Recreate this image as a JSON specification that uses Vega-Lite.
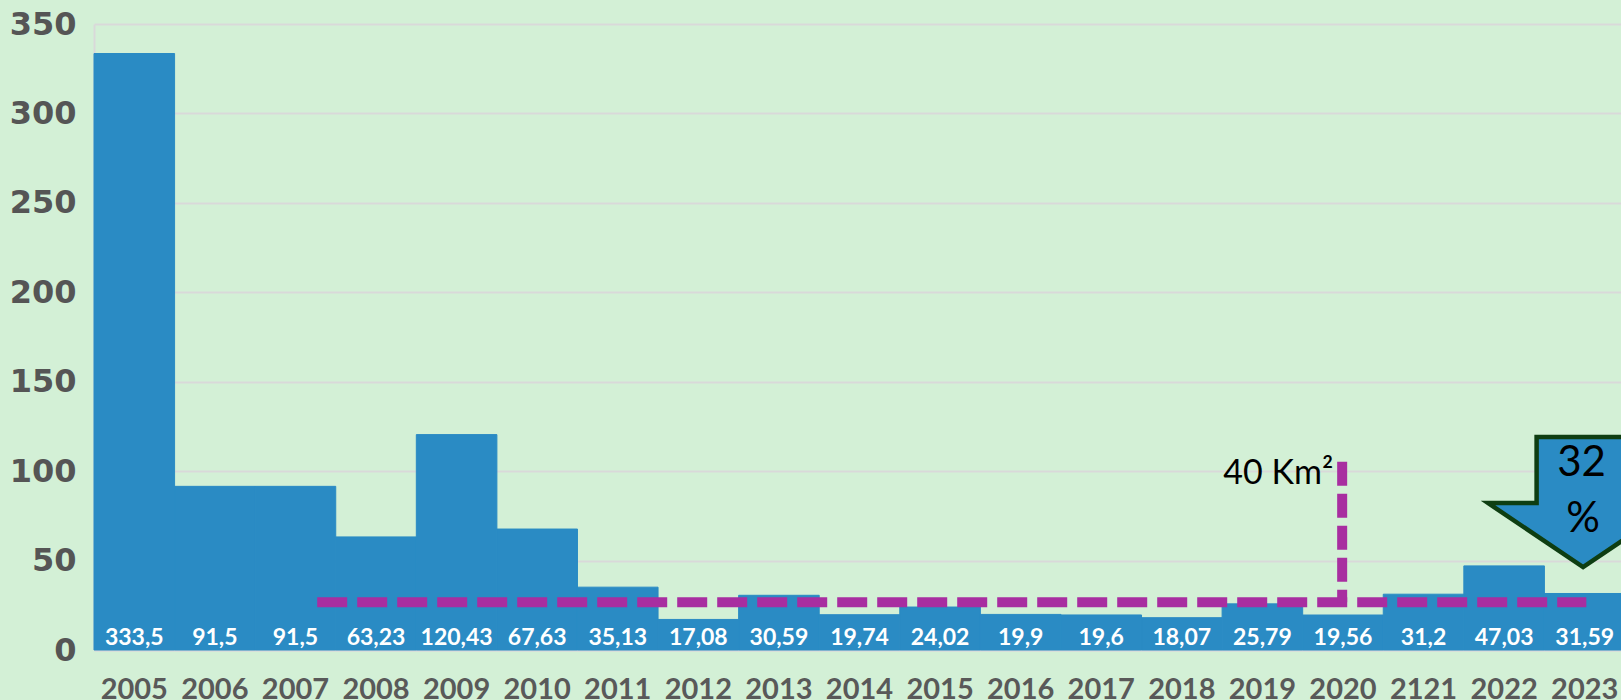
{
  "$schema": "https://vega.github.io/schema/vega-lite/v6.json",
  "width": 1531,
  "height": 626,
  "autosize": {"type": "none"},
  "padding": {"left": 94, "top": 24, "right": 0, "bottom": 50},
  "background": "#d3f0d6",
  "config": {"view": {"stroke": null}},
  "resolve": {"scale": {"x": "independent"}},
  "layer": [
    {
      "data": {
        "values": [
          {"year": "2005", "value": 333.5, "label": "333,5"},
          {"year": "2006", "value": 91.5, "label": "91,5"},
          {"year": "2007", "value": 91.5, "label": "91,5"},
          {"year": "2008", "value": 63.23, "label": "63,23"},
          {"year": "2009", "value": 120.43, "label": "120,43"},
          {"year": "2010", "value": 67.63, "label": "67,63"},
          {"year": "2011", "value": 35.13, "label": "35,13"},
          {"year": "2012", "value": 17.08, "label": "17,08"},
          {"year": "2013", "value": 30.59, "label": "30,59"},
          {"year": "2014", "value": 19.74, "label": "19,74"},
          {"year": "2015", "value": 24.02, "label": "24,02"},
          {"year": "2016", "value": 19.9, "label": "19,9"},
          {"year": "2017", "value": 19.6, "label": "19,6"},
          {"year": "2018", "value": 18.07, "label": "18,07"},
          {"year": "2019", "value": 25.79, "label": "25,79"},
          {"year": "2020", "value": 19.56, "label": "19,56"},
          {"year": "2121", "value": 31.2, "label": "31,2"},
          {"year": "2022", "value": 47.03, "label": "47,03"},
          {"year": "2023", "value": 31.59, "label": "31,59"}
        ]
      },
      "layer": [
        {
          "mark": {"type": "bar", "color": "#2a8bc4", "stroke": "#2a8bc4", "strokeWidth": 1},
          "encoding": {
            "x": {
              "field": "year", "type": "nominal", "sort": null,
              "scale": {"paddingInner": 0, "paddingOuter": 0},
              "axis": {
                "title": null, "labelAngle": 0, "ticks": false,
                "labelFont": "Lato", "labelFontWeight": "bold", "labelFontSize": 29,
                "labelColor": "#595959", "labelPadding": 25,
                "domainColor": "#d9d9d9", "domainWidth": 2
              }
            },
            "y": {
              "field": "value", "type": "quantitative",
              "scale": {"domain": [0, 350], "nice": false},
              "axis": {
                "title": null, "values": [0, 50, 100, 150, 200, 250, 300, 350],
                "ticks": false, "labelFont": "DejaVu Sans", "labelFontWeight": "bold",
                "labelFontSize": 32, "labelColor": "#555555", "labelPadding": 18,
                "domainColor": "#d9d9d9", "domainWidth": 2,
                "gridColor": "#d9d9d9", "gridWidth": 2
              }
            }
          }
        },
        {
          "mark": {"type": "text", "color": "white", "font": "Lato", "fontWeight": "bold", "fontSize": 23, "baseline": "middle", "dy": -12},
          "encoding": {
            "x": {"field": "year", "type": "nominal", "sort": null},
            "y": {"datum": 0, "type": "quantitative"},
            "text": {"field": "label"}
          }
        }
      ]
    },
    {
      "data": {"values": [{}]},
      "layer": [
        {
          "mark": {"type": "rule", "color": "#a82ea0", "strokeWidth": 10, "strokeDash": [30, 10], "strokeCap": "butt"},
          "encoding": {
            "x": {"datum": 2.77, "type": "quantitative", "scale": {"domain": [0, 19], "nice": false, "zero": false}, "axis": null},
            "x2": {"datum": 18.52},
            "y": {"datum": 26.7, "type": "quantitative"}
          }
        },
        {
          "mark": {"type": "rule", "color": "#a82ea0", "strokeWidth": 10, "strokeDash": [24, 8], "strokeCap": "butt"},
          "encoding": {
            "x": {"datum": 15.49, "type": "quantitative", "axis": null},
            "y": {"datum": 105.3, "type": "quantitative"},
            "y2": {"datum": 26.7}
          }
        },
        {
          "mark": {"type": "text", "font": "Lato", "fontSize": 34, "color": "black", "align": "right", "baseline": "middle"},
          "encoding": {
            "x": {"datum": 15.38, "type": "quantitative", "axis": null},
            "y": {"datum": 98.5, "type": "quantitative"},
            "text": {"value": "40 Km²"}
          }
        },
        {
          "mark": {
            "type": "point",
            "shape": "M-0.465,-0.652L0.465,-0.652L0.465,0.01L0.95,0.01L0,0.65L-0.95,0.01L-0.465,0.01Z",
            "size": 40000, "filled": true, "fill": "#2a8bc4", "stroke": "#0e3e12",
            "strokeWidth": 4.5, "opacity": 1, "fillOpacity": 1, "strokeOpacity": 1, "strokeJoin": "miter"
          },
          "encoding": {
            "x": {"datum": 18.48, "type": "quantitative", "axis": null},
            "y": {"datum": 82.7, "type": "quantitative"}
          }
        },
        {
          "mark": {"type": "text", "font": "Lato", "fontSize": 42, "color": "black", "align": "center", "baseline": "middle"},
          "encoding": {
            "x": {"datum": 18.46, "type": "quantitative", "axis": null},
            "y": {"datum": 104.6, "type": "quantitative"},
            "text": {"value": "32"}
          }
        },
        {
          "mark": {"type": "text", "font": "Lato", "fontSize": 42, "color": "black", "align": "center", "baseline": "middle"},
          "encoding": {
            "x": {"datum": 18.48, "type": "quantitative", "axis": null},
            "y": {"datum": 73.0, "type": "quantitative"},
            "text": {"value": "%"}
          }
        }
      ]
    }
  ]
}
